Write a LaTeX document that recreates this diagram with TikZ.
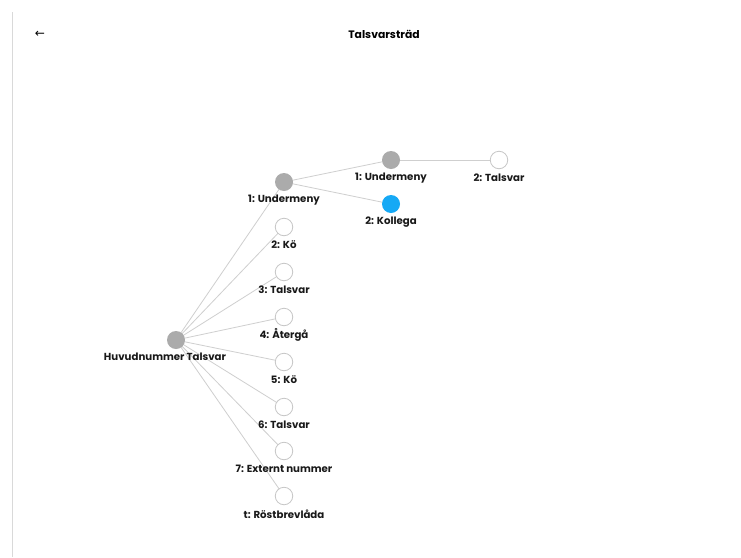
\documentclass[tikz,border=0pt]{standalone}
\usepackage{fontspec}
\setmainfont{Poppins}
\newfontfamily\arrowfont{DejaVu Sans}
\begin{document}
\begin{tikzpicture}[x=1pt,y=-1pt,
  edge/.style={draw=linegray, line width=0.8pt},
  fullnode/.style={circle, fill=nodegray, minimum size=18pt, inner sep=0pt},
  bluenode/.style={circle, fill=nodeblue, minimum size=18pt, inner sep=0pt},
  emptynode/.style={circle, draw=circgray, fill=white, line width=0.8pt, minimum size=17.5pt, inner sep=0pt},
  lbl/.style={font=\fontsize{10.2}{11}\selectfont\bfseries, text=black!90, inner sep=0pt}
]
\definecolor{linegray}{HTML}{CFCFCF}
\definecolor{nodegray}{HTML}{ABABAB}
\definecolor{nodeblue}{HTML}{16A9F5}
\definecolor{circgray}{HTML}{C6C6C6}
\useasboundingbox (0,0) rectangle (741,557);
\fill[white] (0,0) rectangle (741,557);
\coordinate (vtop) at (12,12);
\coordinate (vbot) at (12,557);
\draw[draw=linegray!80, line width=0.9pt] (vtop) -- (vbot);
\node[font=\arrowfont\fontsize{12}{12}\selectfont] (back) at (40,34) {←};
\node[font=\fontsize{10.8}{12}\selectfont\bfseries] (title) at (384,34) {Talsvarsträd};

% node positions
\coordinate (proot) at (176,340);
\coordinate (pu1) at (284,182);
\coordinate (pc2) at (284,227);
\coordinate (pc3) at (284,272);
\coordinate (pc4) at (284,317);
\coordinate (pc5) at (284,362);
\coordinate (pc6) at (284,407);
\coordinate (pc7) at (284,451);
\coordinate (pct) at (284,496);
\coordinate (ps1) at (391,160);
\coordinate (ps2) at (391,204);
\coordinate (ps3) at (499,160);

\draw[edge] (proot) -- (pu1);
\draw[edge] (proot) -- (pc2);
\draw[edge] (proot) -- (pc3);
\draw[edge] (proot) -- (pc4);
\draw[edge] (proot) -- (pc5);
\draw[edge] (proot) -- (pc6);
\draw[edge] (proot) -- (pc7);
\draw[edge] (proot) -- (pct);
\draw[edge] (pu1) -- (ps1);
\draw[edge] (pu1) -- (ps2);
\draw[edge] (ps1) -- (ps3);

\node[fullnode] (root) at (proot) {};
\node[fullnode] (u1) at (pu1) {};
\node[emptynode] (c2) at (pc2) {};
\node[emptynode] (c3) at (pc3) {};
\node[emptynode] (c4) at (pc4) {};
\node[emptynode] (c5) at (pc5) {};
\node[emptynode] (c6) at (pc6) {};
\node[emptynode] (c7) at (pc7) {};
\node[emptynode] (ct) at (pct) {};
\node[fullnode] (s1) at (ps1) {};
\node[bluenode] (s2) at (ps2) {};
\node[emptynode] (s3) at (ps3) {};

\node[lbl] (lroot) at (165,357) {Huvudnummer Talsvar};
\node[lbl] (lu1) at (284,200) {1: Undermeny};
\node[lbl] (lc2) at (284,245) {2: Kö};
\node[lbl] (lc3) at (284,290) {3: Talsvar};
\node[lbl] (lc4) at (284,335) {4: Återgå};
\node[lbl] (lc5) at (284,380) {5: Kö};
\node[lbl] (lc6) at (284,425) {6: Talsvar};
\node[lbl] (lc7) at (284,469) {7: Externt nummer};
\node[lbl] (lct) at (284,514) {t: Röstbrevlåda};
\node[lbl] (ls1) at (391,178) {1: Undermeny};
\node[lbl] (ls2) at (391,222) {2: Kollega};
\node[lbl] (ls3) at (499,178) {2: Talsvar};
\end{tikzpicture}
\end{document}
